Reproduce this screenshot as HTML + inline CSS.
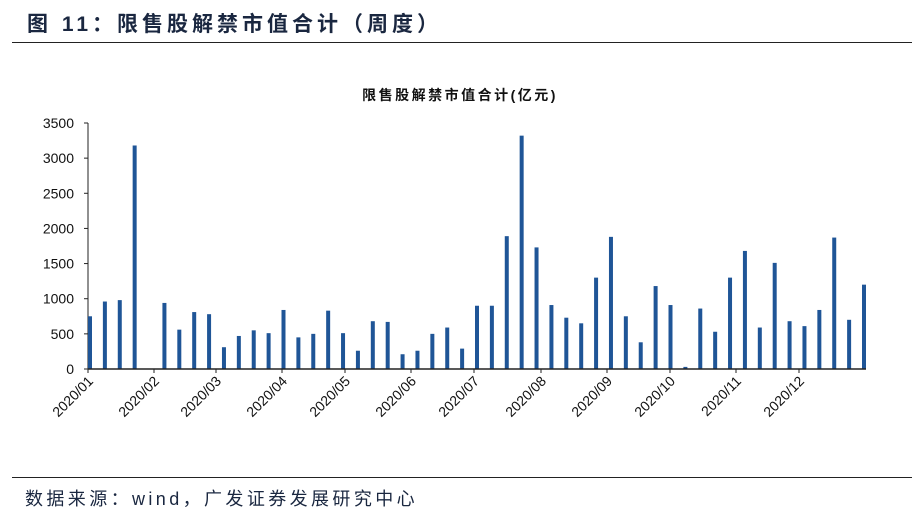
<!DOCTYPE html>
<html><head><meta charset="utf-8"><style>
body{margin:0;background:#fff;font-family:"Liberation Sans","Noto Sans CJK SC",sans-serif;}
#wrap{position:relative;width:923px;height:515px;overflow:hidden;}
</style></head><body>
<div id="wrap">
<div style="position:absolute;left:27px;top:8px;font-size:21px;font-weight:bold;color:#1a2740;letter-spacing:4px;white-space:nowrap;">图&nbsp;11：限售股解禁市值合计（周度）</div>
<div style="position:absolute;left:12px;top:42px;width:900px;height:1px;background:#222;"></div>
<div style="position:absolute;left:12px;top:477px;width:900px;height:1px;background:#222;"></div>
<div style="position:absolute;left:25px;top:485px;font-size:18px;color:#1a2740;letter-spacing:3.4px;white-space:nowrap;">数据来源：wind，广发证券发展研究中心</div>
<svg id="chart" width="923" height="515" style="position:absolute;left:0;top:0"></svg>
</div>
<script>
const categories=[];for(let i=0;i<53;i++)categories.push('w'+(i+1));
const values=[750,960,980,3180,0,940,560,810,780,310,470,550,510,840,450,500,830,510,260,680,670,210,260,500,590,290,900,900,1890,3320,1730,910,730,650,1300,1880,750,380,1180,910,30,860,530,1300,1680,590,1510,680,610,840,1870,700,1200];
const yTicks=[0,500,1000,1500,2000,2500,3000,3500];
const monthLabels=['2020/01','2020/02','2020/03','2020/04','2020/05','2020/06','2020/07','2020/08','2020/09','2020/10','2020/11','2020/12'];
const monthTickX=[88,154,216,282,345,411,474,541,607,670,736,799];
const svg=document.getElementById('chart');const NS='http://www.w3.org/2000/svg';
function mk(t,a,p){const e=document.createElementNS(NS,t);for(const k in a)e.setAttribute(k,a[k]);(p||svg).appendChild(e);return e;}
const y0=369,y1=123,vmax=3500;
const yS=v=>y0-(v/vmax)*(y0-y1);
const xS=i=>90+i*(864-90)/(categories.length-1);
let t=mk('text',{x:460,y:100,'text-anchor':'middle','font-size':14,'font-weight':'bold',fill:'#111','letter-spacing':2.5});t.textContent='限售股解禁市值合计(亿元)';


let ax=mk('line',{x1:88,y1:y1,x2:88,y2:y0,stroke:'#222','stroke-width':1});


yTicks.forEach(v=>{
 const l=mk('line',{x1:84,x2:88,y1:yS(v),y2:yS(v),stroke:'#222'});
 
 
 const tx=mk('text',{x:74,y:yS(v)+5,'text-anchor':'end','font-size':14,fill:'#111'});tx.textContent=v;
 
 
});
values.forEach((v,i)=>{
 const r=mk('rect',{x:xS(i)-2,y:yS(v),width:4,height:y0-yS(v),fill:'#1f5597'});
 
 
});
let xa=mk('line',{x1:88,y1:y0,x2:866,y2:y0,stroke:'#222','stroke-width':1.5});


monthLabels.forEach((m,i)=>{
 const x=monthTickX[i];
 const l=mk('line',{x1:x,x2:x,y1:y0,y2:y0+4,stroke:'#222'});
 
 
 const tx=mk('text',{x:x+6,y:y0+13,'text-anchor':'end','font-size':14,fill:'#111',transform:`rotate(-45 ${x+6} ${y0+13})`});tx.textContent=m;
 
 
});
</script>
</body></html>
